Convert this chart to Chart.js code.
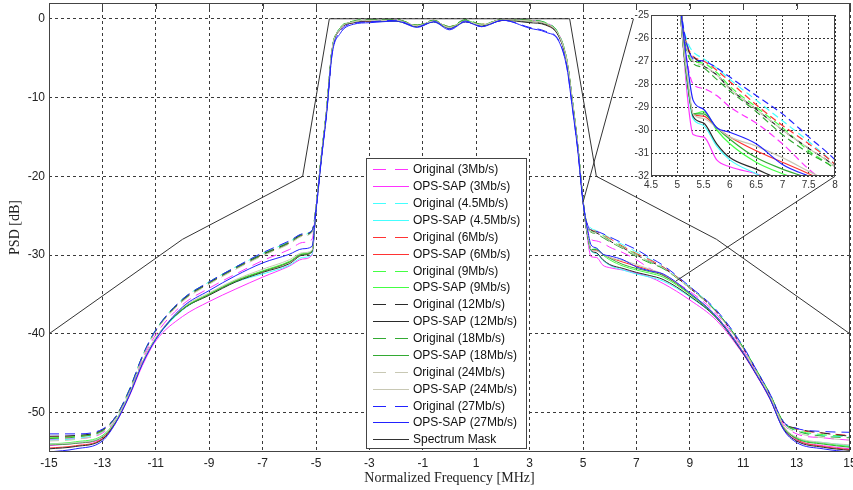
<!DOCTYPE html>
<html><head><meta charset="utf-8">
<script src="https://cdn.jsdelivr.net/npm/chart.js@4.4.1/dist/chart.umd.min.js"></script>
<style>
html,body{margin:0;padding:0;background:#fff;}
#wrap{position:relative;width:853px;height:490px;overflow:hidden;}
#main{position:absolute;left:0;top:0;z-index:2;}
#inset{position:absolute;left:633px;top:10px;z-index:1;}
</style></head><body>
<div id="wrap">
<canvas id="inset" width="216" height="185"></canvas>
<canvas id="main" width="853" height="490"></canvas>
</div>
<script>
// ---------- data ----------
const freq = [-15,-14,-13,-12.5,-12,-11.5,-11,-10,-9,-8,-7,-6,-5.5,-5.15,
  -5.0,-4.8,-4.6,-4.4,-4.1,-3.6,-3,-2,-1.2,-0.6,0,0.6,1.2,2,3,3.6,4.1,4.4,4.6,4.8,5.0,
  5.1,5.2,5.3,5.5,5.75,6,6.5,7,7.5,8,9,10,11,11.5,12,12.5,13,14,15];

const orig3  = [-53.4,-53.3,-52.6,-50.9,-47.6,-43.3,-40.1,-36.3,-34.2,-32.4,-30.7,-29.3,-28.4,-28.0,
  -24.0,-17.5,-11.5,-4.0,-1.3,-0.4,-0.2,-0.2,-0.9,-0.3,-1.1,-0.3,-0.8,-0.1,-0.2,-0.5,-2.0,-5.3,-10.3,-16.0,-23.0,
  -25.5,-27.2,-28.0,-28.2,-28.5,-29.0,-29.7,-30.6,-31.7,-32.6,-34.6,-37.5,-42.0,-44.9,-47.9,-51.4,-52.7,-53.2,-53.5];
const ops3   = [-54.2,-53.9,-53.3,-51.3,-48.0,-44.0,-40.9,-37.8,-35.9,-34.3,-32.8,-31.4,-30.5,-30.0,
  -24.2,-17.6,-11.6,-4.1,-1.4,-0.5,-0.3,-0.2,-1.0,-0.3,-1.2,-0.3,-0.9,-0.2,-0.3,-0.6,-2.2,-5.5,-10.5,-16.1,-23.1,
  -26.0,-28.7,-30.2,-30.3,-31.3,-31.6,-31.9,-32.3,-32.8,-33.6,-35.7,-38.3,-42.6,-45.3,-48.3,-52.0,-53.5,-54.2,-54.6];
const orig45 = [-53.5,-53.3,-52.4,-50.6,-47.2,-42.8,-39.5,-35.6,-33.4,-31.5,-29.8,-28.3,-27.4,-26.9,
  -24.0,-17.4,-11.4,-3.9,-1.2,-0.4,-0.2,-0.2,-0.9,-0.3,-1.1,-0.2,-0.8,-0.1,-0.2,-0.5,-2.0,-5.3,-10.3,-15.9,-23.0,
  -25.3,-26.2,-26.6,-26.9,-27.3,-27.8,-28.7,-29.6,-30.5,-31.5,-34.0,-37.1,-41.7,-44.6,-47.6,-51.2,-52.3,-52.9,-53.1];
const ops45  = [-54.0,-53.8,-53.0,-51.0,-47.7,-43.7,-40.7,-37.0,-35.0,-33.4,-32.4,-31.3,-30.3,-29.9,
  -24.2,-17.6,-11.6,-4.1,-1.3,-0.5,-0.3,-0.3,-1.0,-0.4,-1.2,-0.3,-0.9,-0.2,-0.3,-0.6,-2.2,-5.5,-10.5,-16.1,-23.1,
  -26.0,-28.2,-29.5,-29.8,-30.7,-31.3,-31.9,-32.4,-32.8,-33.3,-35.3,-38.0,-42.4,-45.1,-48.1,-51.8,-53.3,-53.8,-54.2];
const orig6  = [-53.1,-53.0,-52.3,-50.5,-47.2,-42.9,-39.6,-35.8,-33.6,-31.7,-30.0,-28.5,-27.5,-27.0,
  -24.0,-17.5,-11.5,-4.0,-1.3,-0.4,-0.2,-0.1,-0.8,-0.2,-1.0,-0.2,-0.7,-0.1,-0.2,-0.6,-2.1,-5.4,-10.4,-16.0,-23.0,
  -25.4,-26.4,-26.8,-27.0,-27.4,-27.9,-28.9,-29.8,-30.6,-31.5,-34.1,-37.2,-41.8,-44.7,-47.7,-51.2,-52.1,-52.6,-52.9];
const ops6   = [-54.5,-54.2,-53.3,-51.1,-47.8,-43.7,-40.6,-36.9,-35.0,-33.3,-32.1,-30.9,-29.9,-29.5,
  -24.1,-17.6,-11.6,-4.1,-1.3,-0.5,-0.3,-0.2,-0.9,-0.3,-1.1,-0.3,-0.8,-0.2,-0.3,-0.7,-2.2,-5.5,-10.5,-16.1,-23.1,
  -26.0,-28.0,-29.3,-29.4,-29.9,-30.3,-30.9,-31.4,-31.9,-32.5,-34.9,-37.8,-42.3,-45.0,-48.0,-51.7,-53.4,-54.3,-54.7];
const orig9  = [-53.2,-53.0,-52.2,-50.5,-47.1,-42.8,-39.5,-35.6,-33.4,-31.5,-29.8,-28.3,-27.3,-26.9,
  -24.0,-17.4,-11.4,-3.9,-1.2,-0.3,-0.1,-0.1,-0.8,-0.2,-1.0,-0.2,-0.7,-0.1,-0.2,-0.5,-2.0,-5.3,-10.3,-15.9,-23.0,
  -25.5,-26.6,-27.0,-27.1,-27.5,-28.1,-29.0,-29.9,-30.9,-31.7,-34.2,-37.2,-41.7,-44.6,-47.6,-51.1,-52.2,-52.8,-53.0];
const ops9   = [-54.0,-53.7,-52.9,-51.0,-47.7,-43.6,-40.5,-36.8,-34.9,-33.2,-32.0,-30.8,-29.8,-29.5,
  -24.1,-17.5,-11.5,-4.0,-1.3,-0.4,-0.2,-0.2,-0.9,-0.3,-1.1,-0.2,-0.8,-0.1,-0.3,-0.6,-2.1,-5.4,-10.4,-16.0,-23.0,
  -26.0,-28.0,-29.3,-29.2,-30.0,-30.6,-31.4,-31.9,-32.3,-32.8,-35.0,-37.9,-42.4,-45.1,-48.1,-51.8,-53.2,-53.9,-54.3];
const orig12 = [-53.0,-52.9,-52.2,-50.6,-47.3,-42.9,-39.6,-35.7,-33.5,-31.6,-29.9,-28.4,-27.4,-27.0,
  -24.0,-17.5,-11.5,-4.0,-1.3,-0.4,-0.2,-0.2,-0.9,-0.3,-1.1,-0.3,-0.8,-0.1,-0.4,-0.7,-2.2,-5.5,-10.5,-16.0,-23.0,
  -25.4,-26.5,-26.8,-27.2,-27.6,-28.2,-29.1,-30.0,-30.8,-31.6,-34.2,-37.2,-41.8,-44.7,-47.7,-51.2,-52.0,-52.6,-53.0];
const ops12  = [-54.6,-54.3,-53.4,-51.2,-47.8,-43.7,-40.6,-36.9,-35.1,-33.4,-32.2,-31.1,-30.0,-29.6,
  -24.2,-17.6,-11.6,-4.1,-1.4,-0.5,-0.3,-0.3,-1.0,-0.4,-1.2,-0.4,-0.9,-0.2,-0.5,-0.8,-2.3,-5.6,-10.6,-16.1,-23.1,
  -26.0,-28.0,-29.4,-29.7,-30.6,-31.2,-31.7,-32.2,-32.6,-33.1,-35.2,-38.0,-42.5,-45.2,-48.2,-52.0,-53.6,-54.4,-54.8];
const orig18 = [-53.3,-53.1,-52.3,-50.6,-47.3,-42.9,-39.6,-35.8,-33.6,-31.7,-30.0,-28.5,-27.5,-27.1,
  -24.0,-17.4,-11.4,-3.9,-1.2,-0.3,-0.1,-0.1,-0.8,-0.2,-1.0,-0.1,-0.7,-0.1,-0.2,-0.5,-2.0,-5.3,-10.3,-15.9,-23.0,
  -25.5,-26.7,-27.1,-27.3,-27.8,-28.3,-29.2,-30.2,-31.0,-31.7,-34.2,-37.2,-41.8,-44.7,-47.7,-51.2,-52.3,-53.0,-53.2];
const ops18  = [-54.1,-53.9,-53.1,-51.1,-47.8,-43.7,-40.6,-36.9,-35.0,-33.3,-32.1,-30.9,-29.9,-29.5,
  -24.1,-17.5,-11.5,-4.0,-1.3,-0.4,-0.2,-0.2,-0.9,-0.3,-1.1,-0.3,-0.8,-0.1,-0.3,-0.6,-2.1,-5.4,-10.4,-16.0,-23.0,
  -26.0,-28.0,-29.3,-29.3,-29.9,-30.4,-31.2,-31.7,-32.1,-32.6,-34.9,-37.9,-42.4,-45.1,-48.1,-51.8,-53.3,-54.0,-54.4];
const orig24 = [-53.6,-53.4,-52.5,-50.7,-47.4,-43.0,-39.7,-35.9,-33.7,-31.8,-30.1,-28.6,-27.6,-27.1,
  -24.0,-17.5,-11.5,-4.0,-1.3,-0.4,-0.2,-0.2,-0.9,-0.3,-1.1,-0.3,-0.8,-0.1,-0.3,-0.6,-2.1,-5.4,-10.4,-16.0,-23.0,
  -25.5,-26.6,-27.0,-27.2,-27.6,-28.2,-29.1,-30.0,-30.8,-31.6,-34.2,-37.3,-41.9,-44.8,-47.8,-51.4,-52.5,-53.2,-53.5];
const ops24  = [-54.0,-53.8,-53.0,-51.0,-47.7,-43.6,-40.5,-36.7,-34.8,-33.1,-31.8,-30.6,-29.7,-29.4,
  -24.1,-17.5,-11.5,-4.0,-1.3,-0.4,-0.2,-0.2,-0.9,-0.3,-1.1,-0.3,-0.8,-0.1,-0.3,-0.6,-2.1,-5.4,-10.4,-16.0,-23.0,
  -26.0,-27.8,-29.3,-29.5,-29.9,-30.3,-30.7,-31.2,-31.8,-32.4,-34.8,-37.8,-42.3,-45.0,-48.0,-51.7,-53.1,-53.8,-54.1];
const orig27 = [-52.7,-52.7,-52.1,-50.5,-47.2,-42.8,-39.5,-35.6,-33.4,-31.5,-29.7,-28.2,-27.3,-26.9,
  -24.3,-17.8,-11.9,-4.5,-1.7,-0.6,-0.4,-0.2,-1.0,-0.3,-1.3,-0.3,-1.0,-0.2,-1.1,-1.6,-2.8,-6.2,-11.2,-16.5,-23.2,
  -25.3,-26.4,-26.9,-27.0,-27.3,-27.7,-28.5,-29.3,-30.3,-31.3,-34.0,-37.0,-41.6,-44.6,-47.6,-51.1,-52.0,-52.4,-52.5];
const ops27  = [-55.0,-54.6,-53.6,-51.3,-47.9,-43.8,-40.7,-36.6,-34.5,-32.6,-31.0,-29.9,-29.2,-28.9,
  -24.4,-17.9,-12.0,-4.6,-1.9,-0.7,-0.5,-0.3,-1.1,-0.4,-1.4,-0.4,-1.0,-0.2,-1.2,-1.7,-2.9,-6.3,-11.3,-16.6,-23.3,
  -25.5,-27.3,-28.7,-29.1,-29.9,-30.1,-30.6,-31.5,-32.0,-32.4,-34.8,-37.8,-42.4,-45.2,-48.2,-52.1,-53.8,-54.6,-55.0];

const maskFreq = [-15,-10,-5.5,-4.5,4.5,5.5,10,15];
const maskPSD  = [-40,-28,-20,0,0,-20,-28,-40];

// zoom connector lines (main-axis coordinates)
const connAFreq = [5.0, 6.89];
const connAPSD  = [-23.3, 0.0];
const connBFreq = [8.48, 14.44];
const connBPSD  = [-33.3, -20.0];

const xTicks = [-15,-13,-11,-9,-7,-5,-3,-1,1,3,5,7,9,11,13,15];
const yTicks = [-50,-40,-30,-20,-10,0];
const insetXTicks = [4.5,5,5.5,6,6.5,7,7.5,8];
const insetYTicks = [-32,-31,-30,-29,-28,-27,-26,-25];

const seriesDefs = [
  ['Original (3Mb/s)',   orig3,  '#ff33ff', true],
  ['OPS-SAP (3Mb/s)',    ops3,   '#ff33ff', false],
  ['Original (4.5Mb/s)', orig45, '#44ffff', true],
  ['OPS-SAP (4.5Mb/s)',  ops45,  '#44ffff', false],
  ['Original (6Mb/s)',   orig6,  '#ff3333', true],
  ['OPS-SAP (6Mb/s)',    ops6,   '#ff3333', false],
  ['Original (9Mb/s)',   orig9,  '#44ff44', true],
  ['OPS-SAP (9Mb/s)',    ops9,   '#44ff44', false],
  ['Original (12Mb/s)',  orig12, '#2a2a2a', true],
  ['OPS-SAP (12Mb/s)',   ops12,  '#2a2a2a', false],
  ['Original (18Mb/s)',  orig18, '#33aa33', true],
  ['OPS-SAP (18Mb/s)',   ops18,  '#33aa33', false],
  ['Original (24Mb/s)',  orig24, '#c8c8b4', true],
  ['OPS-SAP (24Mb/s)',   ops24,  '#c8c8b4', false],
  ['Original (27Mb/s)',  orig27, '#2222ff', true],
  ['OPS-SAP (27Mb/s)',   ops27,  '#2222ff', false]
];

const toPts = (xs, ys) => xs.map((x,i)=>({x:x, y:ys[i]}));

const tickFont = {family:'"Liberation Sans Narrow","Arial Narrow","Liberation Sans",Arial,sans-serif', size:12};
const serifFont = {family:'"Liberation Serif","Times New Roman",serif', size:14};

// ---------- plugins ----------
const INSET_BOX = {x:633, y:10, w:216, h:185};
const clearInsetArea = {
  id:'clearInsetArea',
  beforeDatasetsDraw(chart){
    chart.ctx.clearRect(INSET_BOX.x, INSET_BOX.y, INSET_BOX.w, INSET_BOX.h);
  }
};
const frame = {
  id:'frame',
  afterDatasetsDraw(chart, args, opts){
    const a = chart.chartArea, ctx = chart.ctx;
    ctx.save();
    ctx.strokeStyle = opts.color || '#444';
    ctx.lineWidth = 1;
    ctx.strokeRect(Math.round(a.left)+0.5, Math.round(a.top)+0.5, Math.round(a.right-a.left)-1, Math.round(a.bottom-a.top)-1);
    if (opts.topTicks) {
      const xs = chart.scales.x;
      ctx.beginPath();
      xs.ticks.forEach(t=>{
        const px = Math.round(xs.getPixelForValue(t.value))+0.5;
        ctx.moveTo(px, a.top); ctx.lineTo(px, a.top+6);
      });
      ctx.stroke();
    }
    ctx.restore();
  }
};
const boxLegend = {
  id:'boxLegend',
  afterDraw(chart){
    const ctx = chart.ctx;
    const items = chart.data.datasets.filter(d=>d.inLegend);
    const bx=366, by=158, bw=160, bh=290;
    ctx.save();
    ctx.fillStyle='#fff'; ctx.fillRect(bx,by,bw,bh);
    ctx.strokeStyle='#444'; ctx.lineWidth=1; ctx.setLineDash([]);
    ctx.strokeRect(bx+0.5,by+0.5,bw,bh);
    ctx.font='12px "Liberation Sans",Arial,sans-serif';
    ctx.textBaseline='middle'; ctx.textAlign='left';
    items.forEach((d,i)=>{
      const y = Math.round(169.3 + i*16.875)+0.5;
      ctx.strokeStyle=d.borderColor; ctx.lineWidth=1.2;
      ctx.setLineDash(d.dashed ? [13,9] : []);
      ctx.beginPath(); ctx.moveTo(373,y); ctx.lineTo(409,y); ctx.stroke();
      ctx.setLineDash([]);
      ctx.fillStyle='#111';
      ctx.fillText(d.label, 413, y+0.5);
    });
    ctx.restore();
  }
};

// ---------- main chart ----------
const mainSets = seriesDefs.map((s,i)=>({
  label:s[0], data:toPts(freq, s[1]), borderColor:s[2], borderWidth:1,
  borderDash: s[3] ? [10,6] : [], dashed:s[3], inLegend:true,
  pointRadius:0, fill:false, cubicInterpolationMode:'monotone', order:100-i
}));
mainSets.push({label:'Spectrum Mask', data:toPts(maskFreq, maskPSD), borderColor:'#333', borderWidth:1,
  borderDash:[], dashed:false, inLegend:true, pointRadius:0, fill:false, tension:0, order:1});
mainSets.push({label:'zoomA', data:toPts(connAFreq, connAPSD), borderColor:'#333', borderWidth:1,
  pointRadius:0, fill:false, tension:0, order:0});
mainSets.push({label:'zoomB', data:toPts(connBFreq, connBPSD), borderColor:'#333', borderWidth:1,
  pointRadius:0, fill:false, tension:0, order:0});

new Chart(document.getElementById('main').getContext('2d'), {
  type:'line',
  data:{datasets:mainSets},
  options:{
    animation:false, responsive:false, devicePixelRatio:1,
    events:[],
    layout:{padding:{left:0,right:3,top:3,bottom:0}},
    plugins:{legend:{display:false}, tooltip:{enabled:false}, frame:{color:'#444', topTicks:true}},
    scales:{
      x:{type:'linear', min:-15, max:15,
        afterBuildTicks:s=>{s.ticks = xTicks.map(v=>({value:v}));},
        afterFit:s=>{s.height=38; s.paddingLeft=0; s.paddingRight=0;},
        ticks:{font:tickFont, color:'#222', padding:4, maxRotation:0, autoSkip:false, callback:v=>String(v)},
        grid:{color:'#3a3a3a', lineWidth:1, drawTicks:false},
        border:{display:false, dash:[3,3]},
        title:{display:true, text:'Normalized Frequency [MHz]', font:serifFont, color:'#222', padding:{top:0,bottom:3}}
      },
      y:{type:'linear', min:-55, max:2,
        afterBuildTicks:s=>{s.ticks = yTicks.map(v=>({value:v}));},
        afterFit:s=>{s.width=49; s.paddingTop=0; s.paddingBottom=0;},
        ticks:{font:tickFont, color:'#222', padding:4, autoSkip:false, callback:v=>String(v)},
        grid:{color:'#3a3a3a', lineWidth:1, drawTicks:false},
        border:{display:false, dash:[3,3]},
        title:{display:true, text:'PSD [dB]', font:serifFont, color:'#222', padding:{top:7,bottom:0}}
      }
    }
  },
  plugins:[clearInsetArea, frame, boxLegend]
});

// ---------- inset chart ----------
const insetSets = seriesDefs.map((s,i)=>({
  label:s[0], data:toPts(freq, s[1]), borderColor:s[2], borderWidth:1.2,
  borderDash: s[3] ? [7,4] : [], pointRadius:0, fill:false,
  cubicInterpolationMode:'monotone', order:100-i
}));
const whiteBg = {id:'whiteBg', beforeDraw(c){const x=c.ctx; x.save(); x.fillStyle='#fff'; x.fillRect(0,0,c.width,c.height); x.restore();}};
const insetFont = {family:'"Liberation Sans Narrow","Arial Narrow","Liberation Sans",Arial,sans-serif', size:10};

new Chart(document.getElementById('inset').getContext('2d'), {
  type:'line',
  data:{datasets:insetSets},
  options:{
    animation:false, responsive:false, devicePixelRatio:1, events:[],
    layout:{padding:{left:0,right:14,top:5,bottom:0}},
    plugins:{legend:{display:false}, tooltip:{enabled:false}, frame:{color:'#444', topTicks:false}},
    scales:{
      x:{type:'linear', min:4.5, max:8,
        afterBuildTicks:s=>{s.ticks = insetXTicks.map(v=>({value:v}));},
        afterFit:s=>{s.height=19; s.paddingLeft=0; s.paddingRight=0;},
        ticks:{font:insetFont, color:'#333', padding:3, maxRotation:0, autoSkip:false, callback:v=>String(v)},
        grid:{color:'#333', lineWidth:1, drawTicks:false},
        border:{display:false, dash:[2,2]}
      },
      y:{type:'linear', min:-32, max:-25,
        afterBuildTicks:s=>{s.ticks = insetYTicks.map(v=>({value:v}));},
        afterFit:s=>{s.width=18; s.paddingTop=0; s.paddingBottom=0;},
        ticks:{font:insetFont, color:'#333', padding:2, autoSkip:false, callback:v=>String(v)},
        grid:{color:'#333', lineWidth:1, drawTicks:false},
        border:{display:false, dash:[2,2]}
      }
    }
  },
  plugins:[whiteBg, frame]
});
</script>
</body></html>
